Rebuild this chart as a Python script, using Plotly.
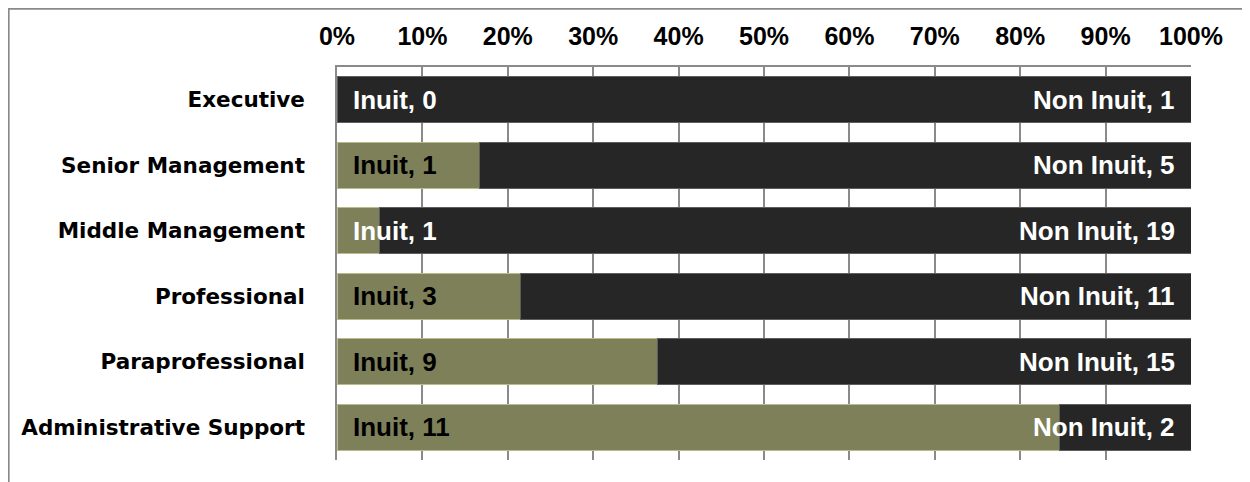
import plotly.graph_objects as go

categories = ["Executive", "Senior Management", "Middle Management",
              "Professional", "Paraprofessional", "Administrative Support"]
inuit = [0, 1, 1, 3, 9, 11]
non_inuit = [1, 5, 19, 11, 15, 2]
tick_vals = [0, 10, 20, 30, 40, 50, 60, 70, 80, 90, 100]
tick_text = [f"{v}%" for v in tick_vals]

GREEN = "#7e8059"
DARK = "#262626"
LABEL_FONT = "Liberation Sans, Arial"

fig = go.Figure()
fig.add_trace(go.Bar(y=categories, x=inuit, orientation="h", name="Inuit",
                     marker=dict(color=GREEN, line=dict(color="#b9bc8a", width=1))))
fig.add_trace(go.Bar(y=categories, x=non_inuit, orientation="h", name="Non Inuit",
                     marker=dict(color=DARK, line=dict(color="#5e5e5e", width=1))))

# data labels
for cat, i_val, n_val in zip(categories, inuit, non_inuit):
    share = 100 * i_val / (i_val + n_val)
    col = "white" if share < 8 else "black"
    fig.add_annotation(x=0, y=cat, xref="x", yref="y", text=f"<b>Inuit, {i_val}</b>",
                       showarrow=False, xanchor="left", xshift=14,
                       font=dict(family=LABEL_FONT, size=26, color=col))
    fig.add_annotation(x=100, y=cat, xref="x", yref="y", text=f"<b>Non Inuit, {n_val}</b>",
                       showarrow=False, xanchor="right", xshift=-14,
                       font=dict(family=LABEL_FONT, size=26, color="white"))

# outer chart border
fig.add_shape(type="rect", xref="paper", yref="paper",
              x0=-0.3845, x1=1.2, y0=-0.2, y1=1.1485,
              line=dict(color="#898989", width=2), fillcolor="rgba(0,0,0,0)", layer="below")

fig.update_layout(
    width=1242, height=474,
    barmode="stack", barnorm="percent", bargap=0.3,
    showlegend=False,
    plot_bgcolor="white", paper_bgcolor="white",
    margin=dict(l=329, r=59, t=59, b=22),
    xaxis=dict(side="top", range=[0, 100], tickmode="array", tickvals=tick_vals, ticktext=tick_text,
               showgrid=True, gridcolor="#8a8a8a", gridwidth=1.5,
               showline=True, linecolor="#8a8a8a", linewidth=1.5,
               zeroline=False, ticks="", ticklabelstandoff=10,
               tickfont=dict(family=LABEL_FONT, size=25, color="black", weight="bold"),
               fixedrange=True),
    yaxis=dict(categoryorder="array", categoryarray=categories, autorange="reversed",
               showline=True, linecolor="#8a8a8a", linewidth=1.5, ticks="",
               ticklabelstandoff=26,
               tickfont=dict(family="DejaVu Sans", size=21.5, color="black", weight="bold"),
               fixedrange=True),
    font=dict(family=LABEL_FONT),
)

fig.write_html("out.html")
